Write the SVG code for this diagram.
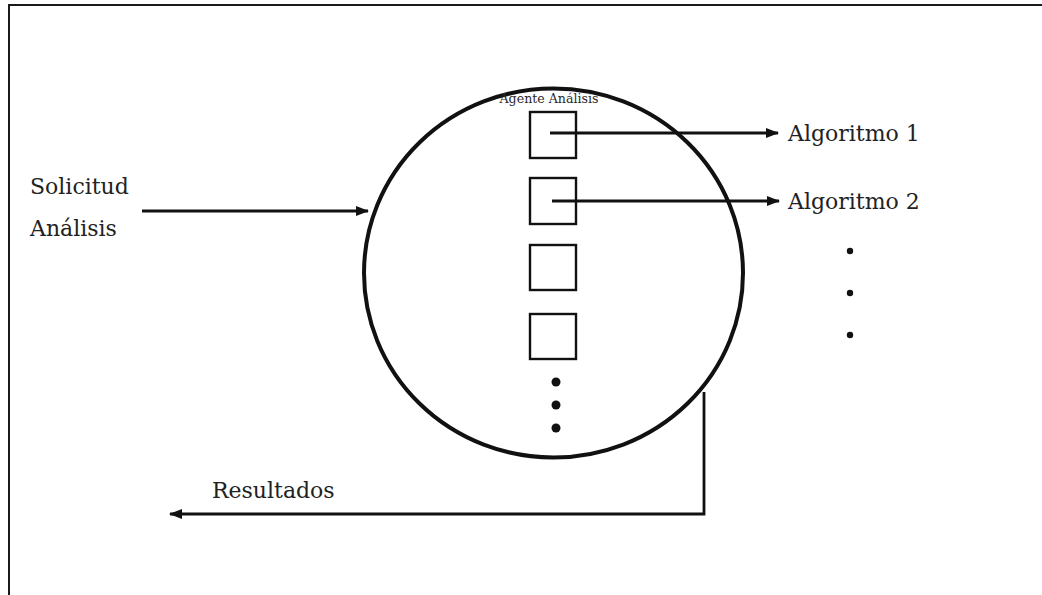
<svg xmlns="http://www.w3.org/2000/svg" width="1042" height="595" viewBox="0 0 1042 595">
  <style>
    .frame { fill: none; stroke: #1a1a1a; stroke-width: 2; }
    .agent { fill: none; stroke: #111; stroke-width: 4; }
    .box { fill: none; stroke: #111; stroke-width: 2.4; }
    .link { fill: none; stroke: #111; stroke-width: 2.8; }
    .dot { fill: #111; }
    .label { font-family: "DejaVu Serif", "Liberation Serif", serif; font-size: 22px; fill: #222; }
    .title { font-family: "DejaVu Serif", "Liberation Serif", serif; font-size: 12.6px; fill: #2a2a2a; }
  </style>
  <defs>
    <marker id="arrow" viewBox="0 0 13 10" refX="12" refY="5" markerWidth="13" markerHeight="10" markerUnits="userSpaceOnUse" orient="auto">
      <path d="M0,0 L13,5 L0,10 Z" fill="#111"/>
    </marker>
  </defs>

  <rect width="1042" height="595" fill="#fff"/>

  <!-- open frame: top and left edges only -->
  <path class="frame" d="M9,595 L9,5 L1042,5"/>

  <!-- analysis agent -->
  <g id="agente">
    <ellipse class="agent" cx="553.5" cy="273" rx="189.5" ry="184.5"/>
    <text class="title" x="549" y="103" text-anchor="middle">Agente Análisis</text>
  </g>

  <g id="modulo1"><rect class="box" x="530" y="112" width="46" height="46"/></g>
  <g id="modulo2"><rect class="box" x="530" y="178" width="46" height="46"/></g>
  <g id="modulo3"><rect class="box" x="530" y="245" width="46" height="45"/></g>
  <g id="modulo4"><rect class="box" x="530" y="314" width="46" height="45"/></g>

  <g id="mas-modulos">
    <circle class="dot" cx="556" cy="382" r="4.5"/>
    <circle class="dot" cx="556" cy="405" r="4.5"/>
    <circle class="dot" cx="556" cy="428" r="4.5"/>
  </g>

  <g id="solicitud">
    <text class="label" x="30" y="194">Solicitud</text>
    <text class="label" x="30" y="236">Análisis</text>
  </g>

  <g id="algoritmo1"><text class="label" x="788" y="141">Algoritmo 1</text></g>
  <g id="algoritmo2"><text class="label" x="788" y="209">Algoritmo 2</text></g>

  <g id="mas-algoritmos">
    <circle class="dot" cx="850" cy="251" r="3.2"/>
    <circle class="dot" cx="850" cy="293" r="3.2"/>
    <circle class="dot" cx="850" cy="335" r="3.2"/>
  </g>

  <g id="resultados"><text class="label" x="212" y="498">Resultados</text></g>

  <!-- connectors -->
  <g id="conectores">
    <line class="link" x1="142" y1="211" x2="368" y2="211" marker-end="url(#arrow)"/>
    <line class="link" x1="550" y1="133" x2="778" y2="133" marker-end="url(#arrow)"/>
    <line class="link" x1="552" y1="201" x2="779" y2="201" marker-end="url(#arrow)"/>
    <polyline class="link" points="704,392 704,514 170,514" marker-end="url(#arrow)"/>
  </g>
</svg>
